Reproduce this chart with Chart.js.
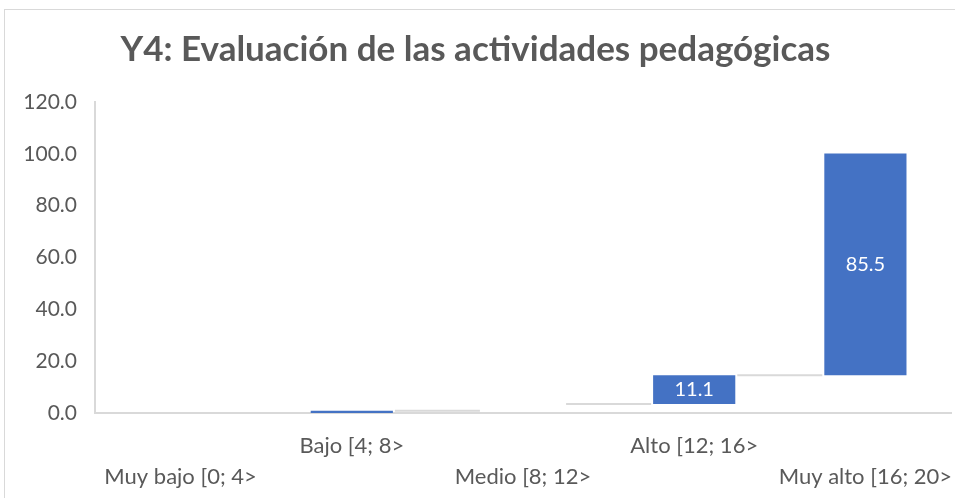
<!DOCTYPE html>
<html>
<head>
<meta charset="utf-8">
<script src="https://cdn.jsdelivr.net/npm/chart.js@4.4.1/dist/chart.umd.min.js"></script>
<style>
  body { margin: 0; background: #fff; overflow: hidden; }
  #frame { position: absolute; left: 4px; top: 9px; width: 1000px; height: 600px; border: 1px solid #d9d9d9; }
  #chartWf { position: absolute; left: 0; top: 0; }
</style>
</head>
<body>
<div id="frame"></div>
<canvas id="chartWf" width="955" height="498"></canvas>
<script>
// categories and values (percent)
const categorias = ["Muy bajo [0; 4>", "Bajo [4; 8>", "Medio [8; 12>", "Alto [12; 16>", "Muy alto [16; 20>"];
const valores = [0, 0.9, 2.6, 11.1, 85.5];
const yTicks = [0, 20, 40, 60, 80, 100, 120];
const colores = ['#4472C4', '#4472C4', 'rgba(0,0,0,0)', '#4472C4', '#4472C4'];

// waterfall: each bar floats from the running total
let acumulado = 0;
const rangos = valores.map(v => {
  const r = [acumulado, acumulado + v];
  acumulado += v;
  return r;
});

// staggered labels like Excel (two rows)
const etiquetas = categorias.map((c, i) => i % 2 === 1 ? [c, ""] : ["", c]);

const conectores = {
  id: 'conectores',
  afterDatasetsDraw(chart) {
    const ctx = chart.ctx;
    const meta = chart.getDatasetMeta(0);
    const y = chart.scales.y;
    ctx.save();
    ctx.strokeStyle = '#d9d9d9';
    ctx.lineWidth = 2;
    for (let i = 0; i < meta.data.length - 1; i++) {
      const a = meta.data[i], b = meta.data[i + 1];
      const py = y.getPixelForValue(rangos[i][1]);
      ctx.beginPath();
      ctx.moveTo(a.x + a.width / 2 + 2, py);
      ctx.lineTo(b.x - b.width / 2 - 2, py);
      ctx.stroke();
    }
    ctx.restore();
  }
};

const etiquetasDatos = {
  id: 'etiquetasDatos',
  afterDatasetsDraw(chart) {
    const ctx = chart.ctx;
    const meta = chart.getDatasetMeta(0);
    ctx.save();
    ctx.fillStyle = '#ffffff';
    ctx.font = '20px Lato';
    ctx.textAlign = 'center';
    ctx.textBaseline = 'middle';
    meta.data.forEach((bar, i) => {
      const h = Math.abs(bar.base - bar.y);
      if (h < 22) return;
      ctx.fillText(valores[i].toFixed(1), bar.x, (bar.y + bar.base) / 2);
    });
    ctx.restore();
  }
};

new Chart(document.getElementById('chartWf').getContext('2d'), {
  type: 'bar',
  data: {
    labels: etiquetas,
    datasets: [{
      label: 'Y4',
      data: rangos,
      backgroundColor: colores,
      borderWidth: 0,
      categoryPercentage: 1,
      barPercentage: 0.48
    }]
  },
  options: {
    responsive: false,
    animation: false,
    layout: { padding: { left: 0, right: 4, top: 0, bottom: 0 } },
    plugins: {
      legend: { display: false },
      tooltip: { enabled: false },
      title: {
        display: true,
        text: 'Y4: Evaluación de las actividades pedagógicas',
        color: '#595959',
        font: { family: 'Lato', size: 35, weight: 'bold', lineHeight: 1.2 },
        padding: { top: 29, bottom: 31 }
      }
    },
    scales: {
      x: {
        grid: { display: false, drawTicks: false },
        border: { color: '#d9d9d9', width: 2 },
        ticks: {
          autoSkip: false,
          maxRotation: 0,
          color: '#595959',
          font: { family: 'Lato', size: 22, lineHeight: 1.4 },
          padding: 18
        },
        afterFit(axis) {
          axis.height = 85;
          axis.paddingLeft = 0;
          axis.paddingRight = 0;
        }
      },
      y: {
        min: 0,
        max: 120,
        afterBuildTicks(axis) { axis.ticks = yTicks.map(v => ({ value: v })); },
        grid: { display: false, drawTicks: false },
        border: { color: '#d9d9d9', width: 2 },
        ticks: {
          color: '#595959',
          font: { family: 'Lato', size: 21 },
          padding: 18,
          callback: v => Number(v).toFixed(1)
        },
        afterFit(axis) { axis.width = 95; }
      }
    }
  },
  plugins: [conectores, etiquetasDatos]
});
</script>
</body>
</html>
